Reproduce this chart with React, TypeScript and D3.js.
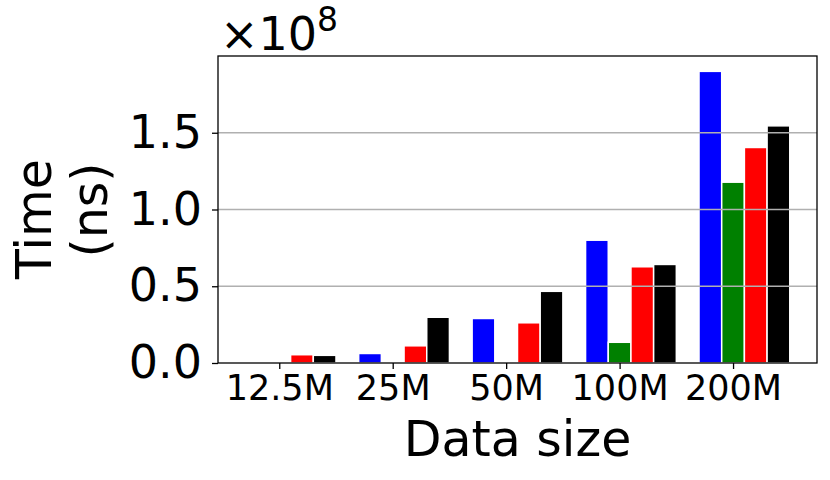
import { useEffect, useRef } from "react";
import * as d3 from "d3";

const categories = ["12.5M", "25M", "50M", "100M", "200M"];
const seriesColors = ["blue", "green", "red", "black"];
const blueVals = [0.006e8, 0.062e8, 0.29e8, 0.8e8, 1.9e8];
const greenVals = [0, 0, 0, 0.135e8, 1.178e8];
const redVals = [0.054e8, 0.112e8, 0.262e8, 0.627e8, 1.404e8];
const blackVals = [0.05e8, 0.298e8, 0.467e8, 0.642e8, 1.545e8];
const yTicks = [0, 0.5e8, 1.0e8, 1.5e8];

export default function App() {
    const ref = useRef<SVGSVGElement>(null);

    useEffect(() => {
        const svg = d3.select(ref.current);
        svg.selectAll("*").remove();

        const left = 218, right = 817, top = 56, bottom = 363;
        const barW = 0.2;
        const font = "DejaVu Sans";

        const x = d3.scaleLinear().domain([-0.54, 4.74]).range([left, right]);
        const y = d3.scaleLinear().domain([0, 2.0e8]).range([bottom, top]);

        const series = [blueVals, greenVals, redVals, blackVals];
        const offsets = [-barW, 0, barW, 2 * barW];

        // bars
        series.forEach((vals, s) => {
            svg.append("g")
                .selectAll("rect")
                .data(vals)
                .join("rect")
                .attr("x", (d, i) => x(i + offsets[s] - barW / 2))
                .attr("width", x(barW) - x(0))
                .attr("y", d => y(d))
                .attr("height", d => y(0) - y(d))
                .attr("fill", seriesColors[s])
                .attr("stroke", d => (d > 0 ? "white" : "none"))
                .attr("stroke-width", 1.5);
        });

        // grid (over bars)
        svg.append("g")
            .selectAll("line")
            .data(yTicks.slice(1))
            .join("line")
            .attr("x1", left).attr("x2", right)
            .attr("y1", d => y(d)).attr("y2", d => y(d))
            .attr("stroke", "#b0b0b0")
            .attr("stroke-width", 1.3);

        // frame
        svg.append("rect")
            .attr("x", left).attr("y", top)
            .attr("width", right - left).attr("height", bottom - top)
            .attr("fill", "none")
            .attr("stroke", "black")
            .attr("stroke-width", 1.3);

        // y axis
        const yAxis = d3.axisLeft(y)
            .tickValues(yTicks)
            .tickSize(6)
            .tickPadding(10)
            .tickFormat(d => (+d / 1e8).toFixed(1));
        const yg = svg.append("g").attr("transform", `translate(${left},0)`).call(yAxis);
        yg.select(".domain").remove();
        yg.selectAll("line").attr("stroke-width", 1.3);
        yg.selectAll("text")
            .attr("font-family", font)
            .attr("font-size", 46)
            .attr("fill", "black");

        // x axis
        const xAxis = d3.axisBottom(x)
            .tickValues(d3.range(categories.length))
            .tickSize(6)
            .tickPadding(6)
            .tickFormat((d, i) => categories[i]);
        const xg = svg.append("g").attr("transform", `translate(0,${bottom})`).call(xAxis);
        xg.select(".domain").remove();
        xg.selectAll("line").attr("stroke-width", 1.3);
        xg.selectAll("text")
            .attr("font-family", font)
            .attr("font-size", 35)
            .attr("fill", "black");

        // axis labels
        svg.append("text")
            .attr("x", (left + right) / 2)
            .attr("y", 456)
            .attr("text-anchor", "middle")
            .attr("font-family", font)
            .attr("font-size", 49)
            .text("Data size");

        const yl = svg.append("text")
            .attr("transform", "rotate(-90)")
            .attr("font-family", font)
            .attr("font-size", 49)
            .attr("text-anchor", "middle");
        yl.append("tspan").attr("x", -219).attr("y", 51).text("Time");
        yl.append("tspan").attr("x", -210).attr("y", 107).text("(ns)");

        // offset text
        const off = svg.append("text")
            .attr("x", 220)
            .attr("y", 50)
            .attr("font-family", font)
            .attr("font-size", 46);
        off.append("tspan").text("\u00d710");
        off.append("tspan").attr("dy", -19).attr("font-size", 33).text("8");
    }, []);

    return (
        <svg ref={ref} width={830} height={480}
            style={{ position: "absolute", left: 0, top: 0, background: "white" }} />
    );
}
